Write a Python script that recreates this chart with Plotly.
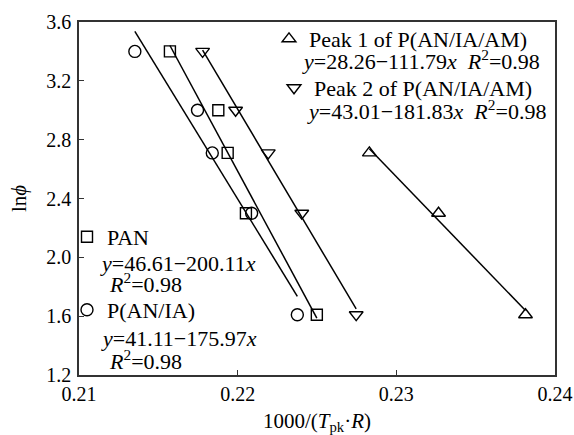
import plotly.graph_objects as go

# ---- data -------------------------------------------------------------
# ln(phi) levels shared by the heating-rate series
ln_phi = [3.40, 3.00, 2.71, 2.30, 1.61]

pan_x = [0.21573, 0.21878, 0.21937, 0.22052, 0.22499]
pan_y = ln_phi

pania_x = [0.21352, 0.21747, 0.21840, 0.22088, 0.22376]
pania_y = ln_phi

peak2_x = [0.21779, 0.21987, 0.22193, 0.22404, 0.22747]
peak2_y = ln_phi

peak1_x = [0.22830, 0.23266, 0.23814]
peak1_y = [2.71, 2.30, 1.61]

# linear fits y = a + b*x  (a, b)
pan_fit = (46.61, -200.11)
pania_fit = (41.11, -175.97)
peak1_fit = (28.26, -111.79)
peak2_fit = (43.01, -181.83)
r_squared = 0.98

x_ticks = [0.21, 0.22, 0.23, 0.24]
y_ticks = [1.2, 1.6, 2.0, 2.4, 2.8, 3.2, 3.6]

# ---- layout geometry (pixels) ----------------------------------------
W, H = 574, 435
L, R, T, B = 79, 555, 22, 375
FONT = "Liberation Serif, Times New Roman, serif"
TEXT_SIZE = 22


def px(x):
    return (x - L) / (R - L)


def py(y):
    return (B - y) / (B - T)


def eq(fit):
    a, b = fit
    return f"<i>y</i>={a:.2f}\u2212{abs(b):.2f}<i>x</i>"


def r2_text():
    return f"<i>R</i><sup>2</sup>={r_squared:.2f}"


series = [
    ("Peak 1 of P(AN/IA/AM)", peak1_x, peak1_y, peak1_fit, "triangle-up-open", 12, "legend"),
    ("Peak 2 of P(AN/IA/AM)", peak2_x, peak2_y, peak2_fit, "triangle-down-open", 12, "legend2"),
    ("PAN", pan_x, pan_y, pan_fit, "square-open", 11, "legend3"),
    ("P(AN/IA)", pania_x, pania_y, pania_fit, "circle-open", 12, "legend4"),
]

fig = go.Figure()
for name, xs, ys, fit, sym, size, leg in series:
    a, b = fit
    x0, x1 = min(xs), max(xs)
    fig.add_trace(go.Scatter(
        x=[x0, x1], y=[a + b * x0, a + b * x1], mode="lines",
        line=dict(color="black", width=1.5), showlegend=False, hoverinfo="skip"))
    fig.add_trace(go.Scatter(
        x=xs, y=ys, mode="markers", name=name, legend=leg,
        marker=dict(symbol=sym, size=size, color="black",
                    line=dict(color="black", width=1.4))))

# legend boxes: top-left corner of each, in pixels
legend_pos = {
    "legend": (269, 18),
    "legend2": (274, 67),
    "legend3": (67, 216),
    "legend4": (67, 289),
}
legend_cfg = {}
for key, (lx, ly) in legend_pos.items():
    legend_cfg[key] = dict(
        x=px(lx), y=py(ly), xanchor="left", yanchor="top",
        bgcolor="rgba(0,0,0,0)", borderwidth=0,
        font=dict(family=FONT, size=TEXT_SIZE, color="black"),
        itemsizing="trace")

# fit equations under each legend entry: (text, left edge, baseline)
annotations = []
for text, lx, base in [
    (eq(peak1_fit) + "\u00a0\u00a0" + r2_text(), 300, 68.7),
    (eq(peak2_fit) + "\u00a0\u00a0" + r2_text(), 305, 118.7),
    (eq(pan_fit), 98, 271.7),
    (r2_text(), 107, 291.7),
    (eq(pania_fit), 99, 346.7),
    (r2_text(), 107, 368.3),
]:
    annotations.append(dict(
        text=text, x=px(lx), y=py(base - 8.5), xref="paper", yref="paper",
        xanchor="left", yanchor="middle", showarrow=False,
        font=dict(family=FONT, size=TEXT_SIZE, color="black")))

axis_common = dict(
    showline=True, linecolor="#333", linewidth=1.5, mirror=True,
    ticks="inside", ticklen=5, tickwidth=1, tickcolor="#333",
    showgrid=False, zeroline=False, automargin=False,
    tickfont=dict(family=FONT, size=20, color="black"),
)

fig.update_layout(
    width=W, height=H,
    margin=dict(l=L, r=W - R, t=T, b=H - B),
    paper_bgcolor="white", plot_bgcolor="white",
    font=dict(family=FONT, color="black"),
    xaxis=dict(range=[0.21, 0.24], tickvals=x_ticks,
               ticktext=[f"{v:.2f}" for v in x_ticks], ticklabelstandoff=0,
               title=dict(text="1000/(<i>T</i><sub>pk</sub>\u00b7<i>R</i>)",
                          font=dict(family=FONT, size=21), standoff=10),
               **axis_common),
    yaxis=dict(range=[1.2, 3.6], tickvals=y_ticks,
               ticktext=[f"{v:.1f}" for v in y_ticks], ticklabelstandoff=2,
               title=dict(text="ln<i>\u03d5</i>",
                          font=dict(family=FONT, size=21), standoff=14),
               **axis_common),
    annotations=annotations,
    **legend_cfg,
)

fig.write_html("out.html")
